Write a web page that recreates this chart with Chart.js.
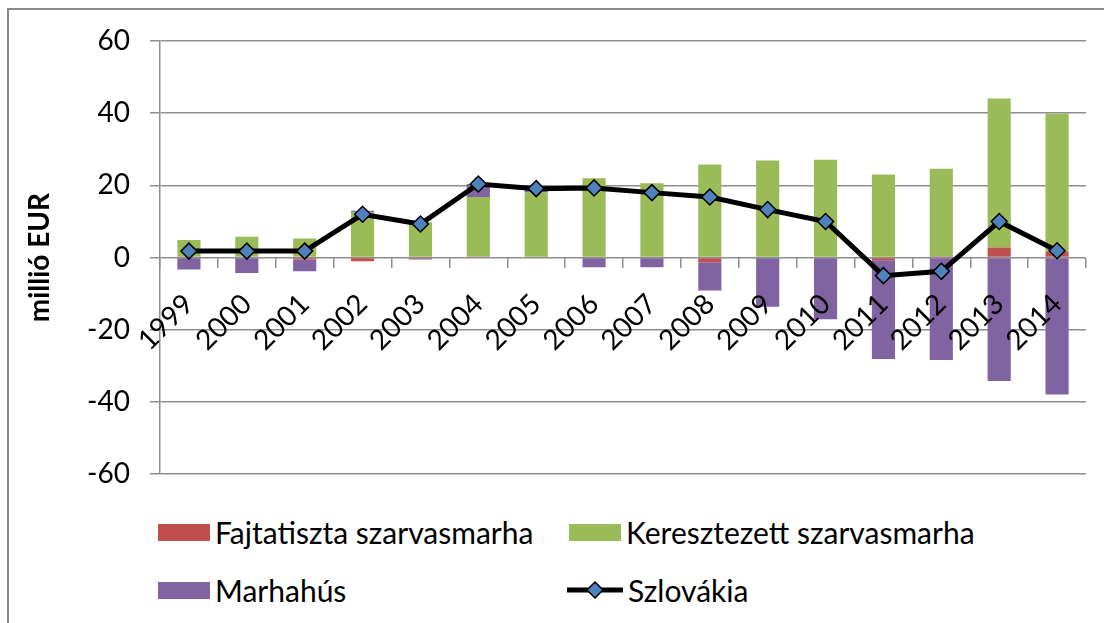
<!DOCTYPE html>
<html>
<head>
<meta charset="utf-8">
<script src="https://cdn.jsdelivr.net/npm/chart.js@4"></script>
<style>
  body { margin: 0; background: #fff; font-family: Lato, "Noto Sans", sans-serif; }
  #wrap { position: relative; width: 1104px; height: 623px; overflow: hidden; }
  #frame { position: absolute; left: 7px; top: 8px; width: 1200px; height: 800px; border: 2px solid #898989; }
  #chart { position: absolute; left: 0; top: 0; }
  .leg { position: absolute; display: flex; align-items: center; font-size: 30px; color: #000; white-space: nowrap; }
  .leg .box { width: 52px; height: 17px; margin-right: 5px; }
  .leg svg { margin-right: 5px; }
</style>
</head>
<body>
<div id="wrap">
  <div id="frame"></div>
  <canvas id="chart" width="1104" height="511"></canvas>
  <div id="legend"></div>
</div>
<script>
const years = ["1999","2000","2001","2002","2003","2004","2005","2006","2007","2008","2009","2010","2011","2012","2013","2014"];
const fajtatiszta = [0, 0, -0.5, -1.0, -0.3, 0.3, 0, 0, 0, -1.3, 0, 0, -0.7, 0.4, 2.8, 1.7];
const keresztezett = [4.9, 5.8, 5.3, 12.5, 9.8, 16.5, 18.0, 22.0, 20.6, 25.8, 26.9, 27.1, 23.0, 24.2, 41.3, 38.2];
const marhahus = [-3.3, -4.3, -3.3, 0.5, -0.2, 3.6, 1.0, -2.7, -2.7, -7.8, -13.6, -17.1, -27.4, -28.4, -34.2, -37.9];
const szlovakia = [1.8, 1.8, 1.8, 12.0, 9.3, 20.4, 19.1, 19.3, 18.0, 16.8, 13.3, 10.0, -5.0, -3.8, 10.0, 1.9];

const gridColor = "#8e8e8e";
const font = "Lato, 'Noto Sans', sans-serif";

const barSets = [
  { label: "Fajtatiszta szarvasmarha", data: fajtatiszta, color: "#C0504D" },
  { label: "Keresztezett szarvasmarha", data: keresztezett, color: "#9BBB59" },
  { label: "Marhahús", data: marhahus, color: "#8064A2" },
];

const ctx = document.getElementById("chart").getContext("2d");

new Chart(ctx, {
  type: "bar",
  data: {
    labels: years,
    datasets: [
      ...barSets.map((s) => ({
        label: s.label,
        data: s.data,
        backgroundColor: s.color,
        borderWidth: 0,
        stack: "bars",
        order: 1,
        barPercentage: 0.4,
        categoryPercentage: 1.0,
      })),
      {
        type: "line",
        label: "Szlovákia",
        data: szlovakia,
        stack: "line",
        order: 0,
        borderColor: "#000",
        borderWidth: 5,
        tension: 0,
        pointStyle: "rectRot",
        pointRadius: 8,
        pointBackgroundColor: "#4F81BD",
        pointBorderColor: "#000",
        pointBorderWidth: 1.5,
      },
    ],
  },
  options: {
    responsive: false,
    animation: false,
    layout: { padding: { left: 0, right: 18, top: 41, bottom: 16 } },
    plugins: { legend: { display: false }, tooltip: { enabled: false } },
    scales: {
      x: {
        stacked: true,
        position: { y: 0 },
        grid: { drawOnChartArea: false, drawTicks: true, tickLength: 10, color: gridColor, lineWidth: 1.5 },
        border: { display: false },
        ticks: {
          z: 1,
          minRotation: 45,
          maxRotation: 45,
          padding: 20,
          color: "#000",
          font: { family: font, size: 28 },
        },
      },
      y: {
        stacked: true,
        min: -60,
        max: 60,
        afterFit: (scale) => { scale.width = 160; },
        grid: { color: gridColor, lineWidth: 1.5, tickLength: 10 },
        border: { color: gridColor, width: 1.5 },
        ticks: {
          stepSize: 20,
          padding: 20,
          color: "#000",
          font: { family: font, size: 28 },
        },
        title: {
          display: true,
          text: "millió EUR",
          color: "#000",
          padding: { top: 23, bottom: 0 },
          font: { family: font, size: 28, weight: "bold" },
        },
      },
    },
  },
});

// legend (2 x 2 like the original)
const legend = document.getElementById("legend");
const legendItems = [
  { label: barSets[0].label, color: barSets[0].color, left: 158, top: 532 },
  { label: barSets[1].label, color: barSets[1].color, left: 569, top: 532 },
  { label: barSets[2].label, color: barSets[2].color, left: 158, top: 590 },
  { label: "Szlovákia", line: true, left: 567, top: 590 },
];
legendItems.forEach((it) => {
  const d = document.createElement("div");
  d.className = "leg";
  d.style.left = it.left + "px";
  d.style.top = (it.top - 20) + "px";
  d.style.height = "40px";
  if (it.line) {
    d.innerHTML = `<svg width="56" height="20"><line x1="0" y1="10" x2="56" y2="10" stroke="#000" stroke-width="5"/>
      <polygon points="28,2 36,10 28,18 20,10" fill="#4F81BD" stroke="#000" stroke-width="1.5"/></svg><span>${it.label}</span>`;
  } else {
    d.innerHTML = `<div class="box" style="background:${it.color}"></div><span>${it.label}</span>`;
  }
  legend.appendChild(d);
});
</script>
</body>
</html>
